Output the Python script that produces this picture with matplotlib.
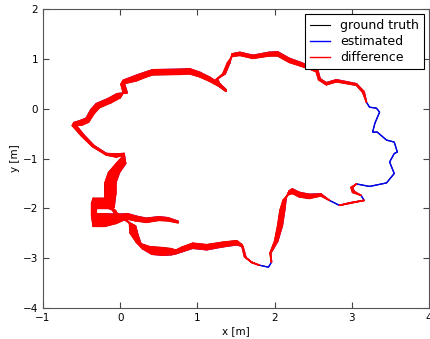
"""Trajectory plot: ground truth vs estimated, with the difference drawn in red."""

import matplotlib

matplotlib.use("Agg")
import matplotlib.pyplot as plt
import numpy as np
from matplotlib.collections import PolyCollection

# ground truth trajectory [m]
gt_x = [
    0.75, 0.62, 0.50, 0.34, 0.20, 0.08, -0.05, -0.20, -0.35, -0.37,
    -0.37, -0.35, -0.20, -0.14, -0.08, 0.05, 0.12, 0.13, 0.21, 0.38,
    0.55, 0.66, 0.72, 0.80, 0.94, 1.12, 1.33, 1.51, 1.57, 1.61,
    1.70, 1.80, 1.92, 1.96, 1.94, 2.00, 2.04, 2.07, 2.11, 2.17,
    2.23, 2.32, 2.45, 2.60, 2.71, 2.84, 2.97, 3.16, 3.12, 3.01,
    2.99, 3.06, 3.23, 3.45, 3.55, 3.49, 3.55, 3.59, 3.55, 3.45,
    3.33, 3.27, 3.30, 3.36, 3.32, 3.23, 3.19, 3.14, 3.06, 2.80,
    2.67, 2.57, 2.54, 2.45, 2.35, 2.19, 2.04, 1.93, 1.72, 1.55,
    1.45, 1.39, 1.33, 1.24, 1.29, 1.37, 1.29, 1.16, 1.03, 0.90,
    0.77, 0.42, 0.34, 0.21, 0.01, 0.04, 0.00, -0.12, -0.27, -0.34,
    -0.41, -0.50, -0.62, -0.50, -0.36, -0.18, -0.05, 0.05, -0.05, -0.15,
    -0.20, -0.20, -0.18,
]
gt_y = [
    -2.29, -2.25, -2.24, -2.28, -2.25, -2.21, -2.30, -2.36, -2.36, -2.15,
    -1.90, -1.80, -1.80, -1.95, -2.08, -2.17, -2.30, -2.50, -2.68, -2.77,
    -2.79, -2.81, -2.84, -2.78, -2.70, -2.73, -2.68, -2.65, -2.72, -2.97,
    -3.08, -3.14, -3.18, -3.08, -2.90, -2.66, -2.35, -2.04, -1.84, -1.73,
    -1.70, -1.77, -1.80, -1.75, -1.84, -1.94, -1.90, -1.84, -1.74, -1.68,
    -1.58, -1.51, -1.56, -1.49, -1.30, -1.07, -0.90, -0.87, -0.67, -0.63,
    -0.47, -0.47, -0.29, -0.07, 0.01, 0.03, 0.13, 0.33, 0.47, 0.54,
    0.48, 0.58, 0.74, 0.80, 0.85, 0.93, 1.06, 1.06, 1.01, 1.07,
    1.05, 0.92, 0.70, 0.58, 0.44, 0.35, 0.44, 0.55, 0.64, 0.70,
    0.69, 0.68, 0.64, 0.56, 0.49, 0.32, 0.22, 0.12, 0.02, -0.10,
    -0.27, -0.33, -0.34, -0.55, -0.76, -0.93, -0.97, -0.93, -1.10, -1.28,
    -1.50, -1.72, -1.95,
]

# estimated minus ground truth [m] at the same stamps
err_x = [
    0.00, 0.00, 0.00, 0.00, 0.01, 0.02, 0.02, 0.00, 0.04, 0.06,
    0.06, 0.04, 0.05, 0.08, 0.06, 0.05, 0.08, 0.10, 0.08, 0.03,
    0.00, 0.00, 0.00, 0.00, 0.00, 0.00, 0.00, 0.00, 0.02, 0.02,
    0.01, 0.00, 0.00, 0.00, 0.01, 0.04, 0.06, 0.06, 0.04, 0.02,
    0.00, 0.00, 0.00, 0.00, 0.00, 0.00, 0.00, 0.00, 0.00, 0.02,
    0.02, 0.00, 0.00, 0.00, 0.00, 0.00, 0.00, 0.00, 0.00, 0.00,
    0.00, 0.00, 0.00, 0.00, 0.00, 0.00, 0.00, 0.02, 0.00, 0.00,
    0.00, 0.02, 0.02, 0.00, 0.00, 0.00, 0.00, 0.00, 0.00, 0.00,
    0.00, 0.03, 0.03, 0.02, 0.00, 0.00, 0.00, 0.00, 0.00, 0.00,
    0.00, 0.00, 0.00, 0.00, 0.03, 0.05, -0.04, -0.04, -0.04, -0.04,
    -0.03, 0.00, 0.02, 0.03, 0.02, 0.00, 0.00, 0.00, 0.12, 0.14,
    0.14, 0.14, 0.10,
]
err_y = [
    0.03, 0.06, 0.07, 0.08, 0.09, 0.10, 0.18, 0.25, 0.25, 0.05,
    0.02, -0.20, -0.20, -0.10, -0.08, -0.10, -0.06, -0.04, -0.13, -0.15,
    -0.15, -0.12, -0.07, -0.09, -0.10, -0.10, -0.09, -0.08, -0.05, -0.02,
    -0.01, 0.00, 0.00, 0.00, 0.00, 0.00, 0.00, 0.00, 0.05, 0.08,
    0.09, 0.09, 0.08, 0.04, 0.00, 0.00, 0.01, 0.00, 0.00, 0.02,
    0.00, 0.00, 0.00, 0.00, 0.00, 0.00, 0.00, 0.00, 0.00, 0.00,
    0.00, 0.00, 0.00, 0.00, 0.00, 0.00, 0.00, 0.01, 0.03, 0.04,
    0.04, 0.02, 0.03, 0.05, 0.07, 0.08, 0.08, 0.07, 0.06, 0.06,
    0.05, 0.00, 0.00, 0.02, 0.05, 0.03, 0.06, 0.08, 0.09, 0.10,
    0.10, 0.10, 0.10, 0.11, 0.08, 0.00, 0.08, 0.08, 0.08, 0.08,
    0.08, 0.10, 0.06, 0.02, 0.02, 0.03, 0.06, 0.03, 0.00, 0.00,
    0.00, 0.00, -0.03,
]

x_ticks = [-1, 0, 1, 2, 3, 4]
y_ticks = [-4, -3, -2, -1, 0, 1, 2]


def main() -> None:
    gx, gy = np.array(gt_x), np.array(gt_y)
    ex, ey = gx + np.array(err_x), gy + np.array(err_y)

    fig = plt.figure(figsize=(4.31, 3.39), dpi=100)
    ax = fig.add_axes([0.0998, 0.0914, 0.8955, 0.882])

    ax.plot(gx, gy, "-", color="black", lw=0.8, label="ground truth", zorder=2)
    ax.plot(ex, ey, "-", color="blue", lw=1.0, label="estimated", zorder=3)

    # difference: every stamp joins gt and estimate, dense enough to fill a band
    quads = []
    for i in range(len(gx) - 1):
        if err_x[i] == err_y[i] == err_x[i + 1] == err_y[i + 1] == 0:
            continue
        quads.append([(gx[i], gy[i]), (gx[i + 1], gy[i + 1]),
                      (ex[i + 1], ey[i + 1]), (ex[i], ey[i])])
    ax.add_collection(PolyCollection(quads, facecolor="red", edgecolor="red",
                                     linewidth=1.2, joinstyle="round",
                                     zorder=4))
    ax.plot([], [], "-", color="red", lw=1.0, label="difference")

    ax.set_xlim(-1, 4)
    ax.set_ylim(-4, 2)
    ax.set_xticks(x_ticks)
    ax.set_yticks(y_ticks)
    ax.tick_params(direction="in", top=True, right=True, length=4,
                   labelsize=7.5, color="#444444")
    for sp in ax.spines.values():
        sp.set_color("#555555")
    ax.set_xlabel("x [m]", fontsize=7.5, labelpad=2)
    ax.set_ylabel("y [m]", fontsize=7.5, labelpad=2)

    leg = ax.legend(loc="upper right", fontsize=9, fancybox=False,
                    framealpha=1, edgecolor="black", borderaxespad=0.4,
                    handlelength=1.6, labelspacing=0.25)
    leg.get_frame().set_linewidth(0.8)

    fig.savefig("out.png", dpi=100)
    plt.close(fig)


if __name__ == "__main__":
    main()
